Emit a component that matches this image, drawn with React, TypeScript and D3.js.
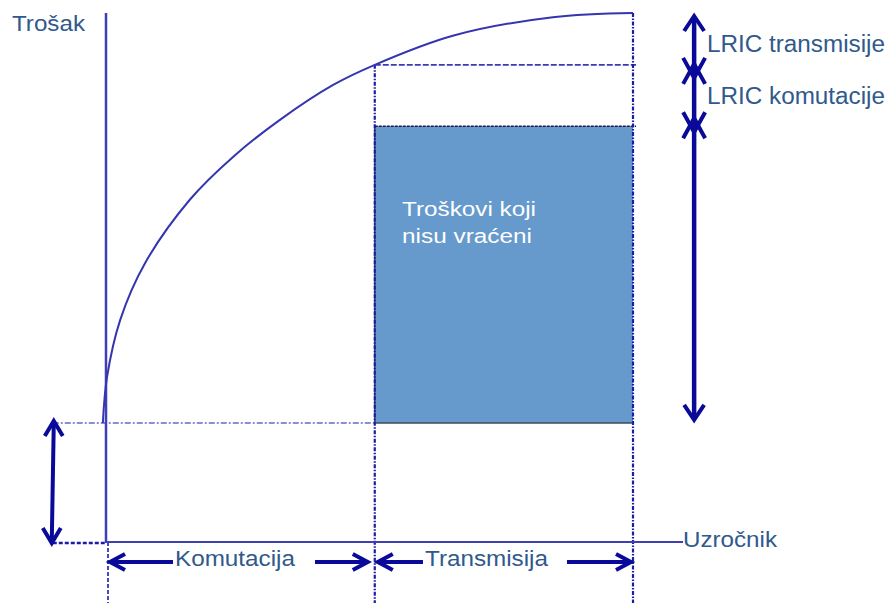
import React from "react";
import * as d3 from "d3";

// ---- data (value space: x 0..100 = cause, y 0..100 = cost) ----
const curveX = [-0.6, 0.2, 2.7, 7.4, 15.9, 24.1, 33.0, 43.1, 51.0, 65.8, 84.8, 100];
const curveY = [22.5, 31.2, 42.0, 52.7, 64.7, 72.8, 79.8, 86.4, 90.2, 95.7, 99.2, 100];
const xBounds = [0, 51.0, 100]; // axis, komutacija|transmisija, end
const yLevels = [22.5, 78.6, 90.2, 100]; // base, unrecovered top, LRIC komutacije top, LRIC transmisije top
const segmentLabels = ["Komutacija", "Transmisija"];
const levelLabels = ["LRIC komutacije", "LRIC transmisije"];
const boxLabel = ["Troškovi koji", "nisu vraćeni"];
const axisLabels = { y: "Trošak", x: "Uzročnik" };

const W = 890;
const H = 603;

const AXIS = "#3f3fb5";
const DASH = "#1c1ca6";
const ARROW = "#0a0a9a";
const TEXT = "#30598c";
const FONT = "Liberation Sans, Arial, sans-serif";

const x = d3.scaleLinear().domain([0, 100]).range([106, 633]);
const y = d3.scaleLinear().domain([0, 100]).range([542, 13]);

function Head({ tx, ty, dir, size = 16, spread = 10 }: { tx: number; ty: number; dir: "up" | "down" | "left" | "right"; size?: number; spread?: number }) {
  let d = "";
  if (dir === "up") d = `M${tx - spread},${ty + size} L${tx},${ty} L${tx + spread},${ty + size}`;
  if (dir === "down") d = `M${tx - spread},${ty - size} L${tx},${ty} L${tx + spread},${ty - size}`;
  if (dir === "left") d = `M${tx + size},${ty - spread} L${tx},${ty} L${tx + size},${ty + spread}`;
  if (dir === "right") d = `M${tx - size},${ty - spread} L${tx},${ty} L${tx - size},${ty + spread}`;
  return <path d={d} fill="none" stroke={ARROW} strokeWidth={4} strokeLinejoin="miter" strokeLinecap="butt" />;
}

export default function App() {
  const line = d3
    .line<number>()
    .x((_, i) => x(curveX[i]))
    .y((_, i) => y(curveY[i]))
    .curve(d3.curveCatmullRom.alpha(0.5));
  const curvePath = line(curveX) || "";

  const xMid = x(xBounds[1]);
  const xEnd = x(xBounds[2]);
  const x0 = x(xBounds[0]);
  const yBase = y(yLevels[0]);
  const yBox = y(yLevels[1]);
  const yKom = y(yLevels[2]);
  const yTop = y(yLevels[3]);
  const yAxis = y(0);
  const bottom = H;

  const arrowX = x(111.6);
  const leftArrowX = x(-10.1);
  const bottomArrowY = y(-3.8);
  const labelBaseY = y(-4.5);

  // right-side stacked arrows (crossings sit slightly below the guide levels)
  const stack = [
    [yTop, yKom + 6],
    [yKom + 6, yBox - 1],
    [yBox - 1, yBase],
  ];
  const over = 7;

  return (
    <svg width={W} height={H} style={{ position: "absolute", left: 0, top: 0, background: "#fff" }} fontFamily={FONT}>
      {/* unrecovered cost box */}
      <rect x={xMid} y={yBox} width={xEnd - xMid} height={yBase - yBox} fill="#6699cc" />
      <line x1={xMid} x2={xMid} y1={yBox} y2={yBase} stroke="#3d4a5c" strokeWidth={1.6} />
      <line x1={xMid} x2={xEnd} y1={yBase} y2={yBase} stroke="#3d4a5c" strokeWidth={1.6} />
      <line x1={xMid} x2={xEnd + 3} y1={yBox} y2={yBox} stroke="#1a1a50" strokeWidth={1.6} strokeDasharray="3,1" />
      {boxLabel.map((t, i) => (
        <text key={t} x={402} y={216 + i * 27} fill="#ffffff" fontSize={20} textLength={i === 0 ? 134 : 130} lengthAdjust="spacingAndGlyphs">
          {t}
        </text>
      ))}

      {/* dashed guide lines */}
      <line x1={leftArrowX} x2={xMid} y1={yBase} y2={yBase} stroke={DASH} strokeWidth={1.2} strokeDasharray="6,2,2,2" />
      <line x1={xMid} x2={xEnd + 3} y1={yKom} y2={yKom} stroke="#3a3ab8" strokeWidth={1.8} strokeDasharray="6,2" />
      <line x1={xMid} x2={xMid} y1={yKom} y2={bottom} stroke={DASH} strokeWidth={2.2} strokeDasharray="4,1.5,1.5,1.5" />
      <line x1={xEnd} x2={xEnd} y1={yTop} y2={bottom} stroke={DASH} strokeWidth={2.2} strokeDasharray="4,1.5,1.5,1.5" />
      <line x1={x0 + 2} x2={x0 + 2} y1={yAxis} y2={bottom} stroke={DASH} strokeWidth={1.6} strokeDasharray="4,2" />
      <line x1={leftArrowX} x2={x0} y1={yAxis + 1} y2={yAxis + 1} stroke={DASH} strokeWidth={2.6} strokeDasharray="4,2" />

      {/* axes */}
      <line x1={x0} x2={x0} y1={yTop} y2={yAxis + 1} stroke={AXIS} strokeWidth={2.5} />
      <line x1={x0} x2={x(109.5)} y1={yAxis} y2={yAxis} stroke={AXIS} strokeWidth={2.2} />

      {/* cost curve */}
      <path d={curvePath} fill="none" stroke="#3535b0" strokeWidth={2} />

      {/* axis labels */}
      <text x={12} y={31} fill={TEXT} fontSize={22} textLength={73} lengthAdjust="spacingAndGlyphs">
        {axisLabels.y}
      </text>
      <text x={683} y={547} fill={TEXT} fontSize={22} textLength={94} lengthAdjust="spacingAndGlyphs">
        {axisLabels.x}
      </text>

      {/* right stacked arrows */}
      {stack.map(([a, b], i) => {
        const upTip = i === 0 ? a + 3 : a - over;
        const downTip = i === 2 ? b - 3 : b + over;
        return (
          <g key={i}>
            <line x1={arrowX} x2={arrowX} y1={upTip + 2} y2={downTip - 2} stroke={ARROW} strokeWidth={4.5} />
            <Head tx={arrowX} ty={upTip} dir="up" size={i === 0 ? 15 : 20} spread={i === 0 ? 10 : 11} />
            <Head tx={arrowX} ty={downTip} dir="down" size={i === 2 ? 15 : 20} spread={i === 2 ? 10 : 11} />
          </g>
        );
      })}
      <text x={707} y={52} fill={TEXT} fontSize={23} textLength={178} lengthAdjust="spacingAndGlyphs">
        {levelLabels[1]}
      </text>
      <text x={707} y={104} fill={TEXT} fontSize={23} textLength={178} lengthAdjust="spacingAndGlyphs">
        {levelLabels[0]}
      </text>

      {/* left vertical arrow */}
      <line x1={leftArrowX + 1} x2={leftArrowX - 1} y1={yBase} y2={yAxis} stroke={ARROW} strokeWidth={4} />
      <Head tx={leftArrowX + 1} ty={yBase - 2} dir="up" size={15} spread={9} />
      <Head tx={leftArrowX - 1} ty={yAxis + 1} dir="down" size={15} spread={9} />

      {/* bottom segment arrows */}
      <line x1={x0 + 5} x2={173} y1={bottomArrowY} y2={bottomArrowY} stroke={ARROW} strokeWidth={4} />
      <Head tx={x0 + 4} ty={bottomArrowY} dir="left" size={15} spread={8} />
      <line x1={315} x2={xMid - 8} y1={bottomArrowY} y2={bottomArrowY} stroke={ARROW} strokeWidth={4} />
      <Head tx={xMid - 7} ty={bottomArrowY} dir="right" size={15} spread={8} />
      <text x={175} y={labelBaseY} fill={TEXT} fontSize={22} textLength={120} lengthAdjust="spacingAndGlyphs">
        {segmentLabels[0]}
      </text>

      <line x1={xMid + 4} x2={423} y1={bottomArrowY} y2={bottomArrowY} stroke={ARROW} strokeWidth={4} />
      <Head tx={xMid + 3} ty={bottomArrowY} dir="left" size={15} spread={8} />
      <line x1={567} x2={xEnd - 3} y1={bottomArrowY} y2={bottomArrowY} stroke={ARROW} strokeWidth={4} />
      <Head tx={xEnd - 2} ty={bottomArrowY} dir="right" size={15} spread={8} />
      <text x={425} y={labelBaseY} fill={TEXT} fontSize={22} textLength={123} lengthAdjust="spacingAndGlyphs">
        {segmentLabels[1]}
      </text>
    </svg>
  );
}
